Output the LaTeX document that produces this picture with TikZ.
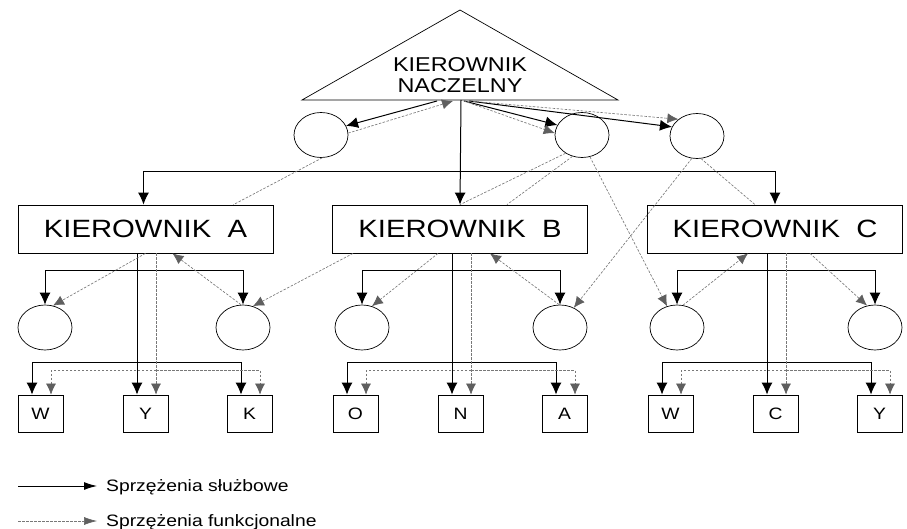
\documentclass[tikz,border=0pt]{standalone}
\usepackage{fontspec}
\setmainfont{Liberation Sans}
\newfontfamily\wfont[FakeStretch=1.17]{Liberation Sans}
\usetikzlibrary{arrows.meta,shapes.geometric}
\definecolor{fline}{RGB}{120,120,120}
\definecolor{ftip}{RGB}{95,95,95}

\begin{document}
\begin{tikzpicture}[x=1pt,y=-1pt,
  mainln/.style={draw=black,line width=1pt},
  funcln/.style={draw=fline,line width=0.65pt,dash pattern=on 2.5pt off 1.5pt},
  sarr/.style={mainln,-{Latex[length=12pt,width=11pt]}},
  farr/.style={funcln,-{Latex[length=11pt,width=10pt,color=ftip]}},
  bigbox/.style={draw,line width=0.8pt,minimum width=255pt,minimum height=48pt,inner sep=0pt,
    font=\wfont\fontsize{25}{25}\selectfont},
  unit/.style={draw,ellipse,line width=0.7pt,minimum width=54pt,minimum height=45pt,inner sep=0pt},
  cell/.style={draw,line width=0.8pt,minimum width=45pt,minimum height=37pt,inner sep=0pt,
    font=\wfont\fontsize{16.5}{16.5}\selectfont},
  legtxt/.style={inner sep=0pt,font=\wfont\fontsize{16.5}{16.5}\selectfont},
]
\useasboundingbox (0,0) rectangle (907,529);

% --- head of the organisation
\coordinate (apex) at (460,10);
\coordinate (bl) at (302,100);
\coordinate (br) at (618,100);
\draw[line width=0.7pt] (apex) -- (bl) -- (br) -- cycle;
\node[align=center,inner sep=0pt,font=\wfont\fontsize{20}{21}\selectfont] (head) at (460,75)
  {KIEROWNIK\\NACZELNY};
\coordinate (t1) at (437,101);
\coordinate (t2) at (453,101);
\coordinate (t3) at (464,101);
\coordinate (t4) at (469,101);
\coordinate (tv) at (461,100);

% --- staff units below the head
\node[unit] (e1) at (321,135) {};
\node[unit] (e2) at (582,135) {};
\node[unit] (e3) at (697,136) {};

% --- managers
\node[bigbox] (KA) at (145.5,229) {KIEROWNIK\ \ A};
\node[bigbox] (KB) at (460,229) {KIEROWNIK\ \ B};
\node[bigbox] (KC) at (775,229) {KIEROWNIK\ \ C};

% --- units below the managers
\node[unit] (a1) at (45,327.5) {};
\node[unit] (a2) at (243,327.5) {};
\node[unit] (b1) at (362,327.5) {};
\node[unit] (b2) at (560,327.5) {};
\node[unit] (c1) at (677,327.5) {};
\node[unit] (c2) at (875,327.5) {};

% --- posts
\node[cell] (wA) at (40.5,413.5) {W};
\node[cell] (yA) at (145.5,413.5) {Y};
\node[cell] (kA) at (249.5,413.5) {K};
\node[cell] (oB) at (355.5,413.5) {O};
\node[cell] (nB) at (460.5,413.5) {N};
\node[cell] (aB) at (564.5,413.5) {A};
\node[cell] (wC) at (670.5,413.5) {W};
\node[cell] (cC) at (775.5,413.5) {C};
\node[cell] (yC) at (879.5,413.5) {Y};

% entry points on top of the posts: line (s) and functional (f)
\foreach \p in {wA,yA,kA,oB,nB,aB,wC,cC,yC}{
  \coordinate (\p-s) at ([xshift=-8.5pt]\p.north);
  \coordinate (\p-f) at ([xshift=10.5pt]\p.north);
}

% ===== line (solid) links =====
\coordinate (bus) at (460,172);
\draw[sarr] (tv) -- (KB.north);
\draw[sarr] (bus) -| ([xshift=-2pt]KA.north);
\draw[sarr] (bus) -| (KC.north);
\draw[sarr] (t1) -- (e1.20);
\draw[sarr] (t3) -- (e2.158);
\draw[sarr] (t4) -- (e3.160);

\coordinate (ja) at (137,271);
\coordinate (jb) at (452,271);
\coordinate (jc) at (767,271);
\draw[sarr] (ja) -| (a1.north);
\draw[sarr] (ja) -| (a2.north);
\draw[sarr] (jb) -| (b1.north);
\draw[sarr] (jb) -| (b2.north);
\draw[sarr] (jc) -| (c1.north);
\draw[sarr] (jc) -| (c2.north);

\draw[sarr] (yA-s |- KA.south) -- (yA-s);
\draw[sarr] ([yshift=32pt]yA-s) -| (wA-s);
\draw[sarr] ([yshift=32pt]yA-s) -| (kA-s);
\draw[sarr] (nB-s |- KB.south) -- (nB-s);
\draw[sarr] ([yshift=32pt]nB-s) -| (oB-s);
\draw[sarr] ([yshift=32pt]nB-s) -| (aB-s);
\draw[sarr] (cC-s |- KC.south) -- (cC-s);
\draw[sarr] ([yshift=32pt]cC-s) -| (wC-s);
\draw[sarr] ([yshift=32pt]cC-s) -| (yC-s);

% ===== functional (dashed) links =====
\draw[farr] (e1.4) -- (t2);
\draw[farr] (t3) -- (e2.176);
\draw[farr] (t4) -- (e3.138);
\draw[funcln] (e1.-87) -- ([xshift=88pt]KA.north);
\draw[funcln] (e2.228) -- (KB.north);
\draw[funcln] (e2.246) -- ([xshift=47pt]KB.north);
\draw[farr] (e2.290) -- (c1.115);
\draw[farr] (e3.257) -- (b2.55);
\draw[funcln] (e3.280) -- ([xshift=-20pt]KC.north);

\draw[farr] (KA.south) -- (a1.70);
\draw[farr] (a2.95) -- ([xshift=27pt]KA.south);
\draw[farr] ([xshift=-107pt]KB.south) -- (a2.65);
\draw[farr] ([xshift=-22pt]KB.south) -- (b1.65);
\draw[farr] (b2.92) -- ([xshift=30pt]KB.south);
\draw[farr] (c1.75) -- ([xshift=-27pt]KC.south);
\draw[farr] ([xshift=35pt]KC.south) -- (c2.110);

\draw[farr] (yA-f |- KA.south) -- (yA-f);
\draw[farr] ([yshift=24pt]yA-f) -| (wA-f);
\draw[farr] ([yshift=24pt]yA-f) -| (kA-f);
\draw[farr] (nB-f |- KB.south) -- (nB-f);
\draw[farr] ([yshift=24pt]nB-f) -| (oB-f);
\draw[farr] ([yshift=24pt]nB-f) -| (aB-f);
\draw[farr] (cC-f |- KC.south) -- (cC-f);
\draw[farr] ([yshift=24pt]cC-f) -| (wC-f);
\draw[farr] ([yshift=24pt]cC-f) -| (yC-f);

% ===== legend =====
\node[legtxt,anchor=base west] (leg1) at (106,491) {Sprzężenia służbowe};
\node[legtxt,anchor=base west] (leg2) at (106,526.5) {Sprzężenia funkcjonalne};
\coordinate (l1a) at (18,486);
\coordinate (l1b) at (97,486);
\coordinate (l2a) at (18,521);
\coordinate (l2b) at (97,521);
\draw[mainln,-{Latex[length=13pt,width=8pt]}] (l1a) -- (l1b);
\draw[funcln,-{Latex[length=13pt,width=8pt,color=ftip]}] (l2a) -- (l2b);
\end{tikzpicture}
\end{document}
